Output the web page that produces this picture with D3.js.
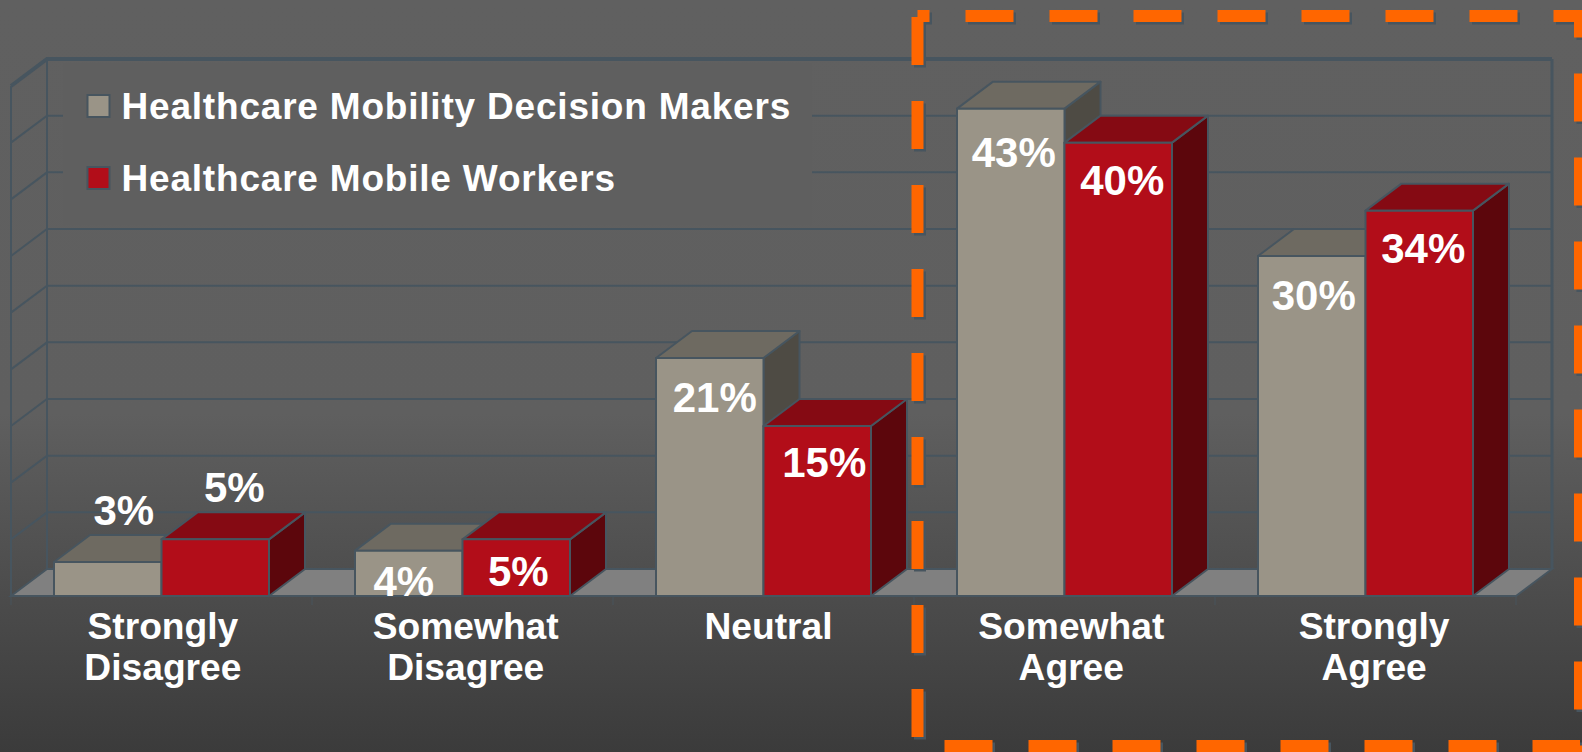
<!DOCTYPE html>
<html><head><meta charset="utf-8">
<script src="https://cdn.jsdelivr.net/npm/d3@7"></script>
<style>html,body{margin:0;padding:0;background:#3a3a3a;overflow:hidden}svg{display:block}text{font-family:"Liberation Sans",Arial,sans-serif;font-weight:bold;fill:#fff}</style>
</head><body><script>
const categories = [["Strongly","Disagree"],["Somewhat","Disagree"],["Neutral"],["Somewhat","Agree"],["Strongly","Agree"]];
const seriesNames = ["Healthcare Mobility Decision Makers","Healthcare Mobile Workers"];
const decisionMakers = [3,4,21,43,30];
const mobileWorkers = [5,5,15,40,34];
const yTicks = [0,5,10,15,20,25,30,35,40,45];
// manual placement of the value labels relative to the front face [dx, dy from bar top to baseline]
const labelNudgeA = [[16,-37],[-5,45],[5,54],[3,58],[2,54]];
const labelNudgeB = [[19,-37],[2,47],[7,51],[4,52],[4,52]];

const W=1582,H=752,dx=36,dy=27,baseY=596,grid="#47555f";
const y=d3.scaleLinear().domain([0,45]).range([baseY,86]);
const xGroup=d3.scaleBand().domain(d3.range(5)).range([11,1516]).paddingInner(2/7).paddingOuter(1/7);
const xSeries=d3.scaleBand().domain([0,1]).range([0,xGroup.bandwidth()]);
const xLabel=d3.scaleBand().domain(d3.range(5)).range([11.5,1525.5]);

const svg=d3.select("body").append("svg").attr("width",W).attr("height",H);
const defs=svg.append("defs");
const bg=defs.append("linearGradient").attr("id","bg").attr("x1",0).attr("x2",0).attr("y1",0).attr("y2",1);
[[0,"#606060"],[0.55,"#5f5f5f"],[1,"#3b3b3b"]].forEach(s=>bg.append("stop").attr("offset",s[0]).attr("stop-color",s[1]));
svg.append("rect").attr("width",W).attr("height",H).attr("fill","url(#bg)");

const x0=11,x1=1516;
const line=d3.line();
// floor
svg.append("path").attr("d",line([[x0,baseY],[x0+dx,baseY-dy],[x1+dx,baseY-dy],[x1,baseY]])+"Z").attr("fill","#808080").attr("stroke",grid).attr("stroke-width",2);
// walls grid
const g=svg.append("g").attr("fill","none").attr("stroke",grid);
yTicks.forEach(t=>{
  const sw=t===45?4:2;
  if(t>0)g.append("path").attr("d",line([[x0,y(t)],[x0+dx,y(t)-dy],[x1+dx,y(t)-dy]])).attr("stroke-width",sw);
});
g.append("path").attr("d",line([[x0,y(45)],[x0,baseY]])).attr("stroke-width",2);
g.append("path").attr("d",line([[x0+dx,y(45)-dy],[x0+dx,baseY-dy]])).attr("stroke-width",2);
g.append("path").attr("d",line([[x1+dx,y(45)-dy],[x1+dx,baseY-dy]])).attr("stroke-width",3);
g.append("path").attr("d",line([[x0,baseY],[x1,baseY]])).attr("stroke-width",2);
d3.range(6).forEach(i=>{const tx=x0+(x1-x0)*i/5;g.append("path").attr("d",line([[tx,baseY],[tx,baseY+9]])).attr("stroke-width",1.5).attr("stroke-opacity",0.6);});

// bars
const faces=[{front:"#9a9487",top:"#6e6a61",side:"#4e4b44"},{front:"#b20d19",top:"#850a13",side:"#5c060c"}];
const bars=svg.append("g").attr("stroke",grid).attr("stroke-width",2).attr("stroke-linejoin","round");
function drawBar(i,s,v){
  const l=xGroup(i)+xSeries(s), r=l+xSeries.bandwidth(), t=y(v), f=faces[s];
  bars.append("path").attr("fill",f.side).attr("d",line([[r,baseY],[r+dx,baseY-dy],[r+dx,t-dy],[r,t]])+"Z");
  bars.append("path").attr("fill",f.top).attr("d",line([[l,t],[l+dx,t-dy],[r+dx,t-dy],[r,t]])+"Z");
  bars.append("rect").attr("fill",f.front).attr("x",l).attr("y",t).attr("width",r-l).attr("height",baseY-t);
}
d3.range(5).forEach(i=>{drawBar(i,0,decisionMakers[i]);drawBar(i,1,mobileWorkers[i]);});

// value labels
function drawLabel(i,s,v,n){
  svg.append("text").attr("text-anchor","middle").attr("font-size",42)
    .attr("x",xGroup(i)+xSeries(s)+xSeries.bandwidth()/2+n[0]).attr("y",y(v)+n[1]).text(v+"%");
}
d3.range(5).forEach(i=>{drawLabel(i,0,decisionMakers[i],labelNudgeA[i]);drawLabel(i,1,mobileWorkers[i],labelNudgeB[i]);});

// category labels
categories.forEach((c,i)=>{
  const t=svg.append("text").attr("text-anchor","middle").attr("font-size",37.2);
  c.forEach((w,k)=>t.append("tspan").attr("x",xLabel(i)+xLabel.bandwidth()/2).attr("y",639+k*41).text(w));
});

// legend
svg.append("rect").attr("x",63).attr("y",63).attr("width",749).attr("height",162).attr("fill","#5f5f5f");
const fills=[faces[0].front,faces[1].front];
seriesNames.forEach((n,i)=>{
  const ly=95+i*72;
  svg.append("rect").attr("x",87.5).attr("y",ly).attr("width",22).attr("height",22).attr("fill",fills[i]).attr("stroke",grid).attr("stroke-width",2);
  svg.append("text").attr("x",121.5).attr("y",ly+23.5).attr("font-size",37).attr("letter-spacing",0.8).text(n);
});

// dashed highlight
const rx0=917.5,ry0=16,rx1=1580,ry1=746;
const rectPath=line([[rx0,ry0],[rx1,ry0],[rx1,ry1],[rx0,ry1],[rx0,ry0]]);
svg.append("path").attr("d",rectPath).attr("fill","none").attr("stroke",grid).attr("stroke-width",12).attr("stroke-dasharray","48 36").attr("stroke-dashoffset",36).attr("transform","translate(2.5,2.5)");
svg.append("path").attr("d",rectPath).attr("fill","none").attr("stroke","#ff6600").attr("stroke-width",12).attr("stroke-dasharray","48 36").attr("stroke-dashoffset",36);
</script></body></html>
